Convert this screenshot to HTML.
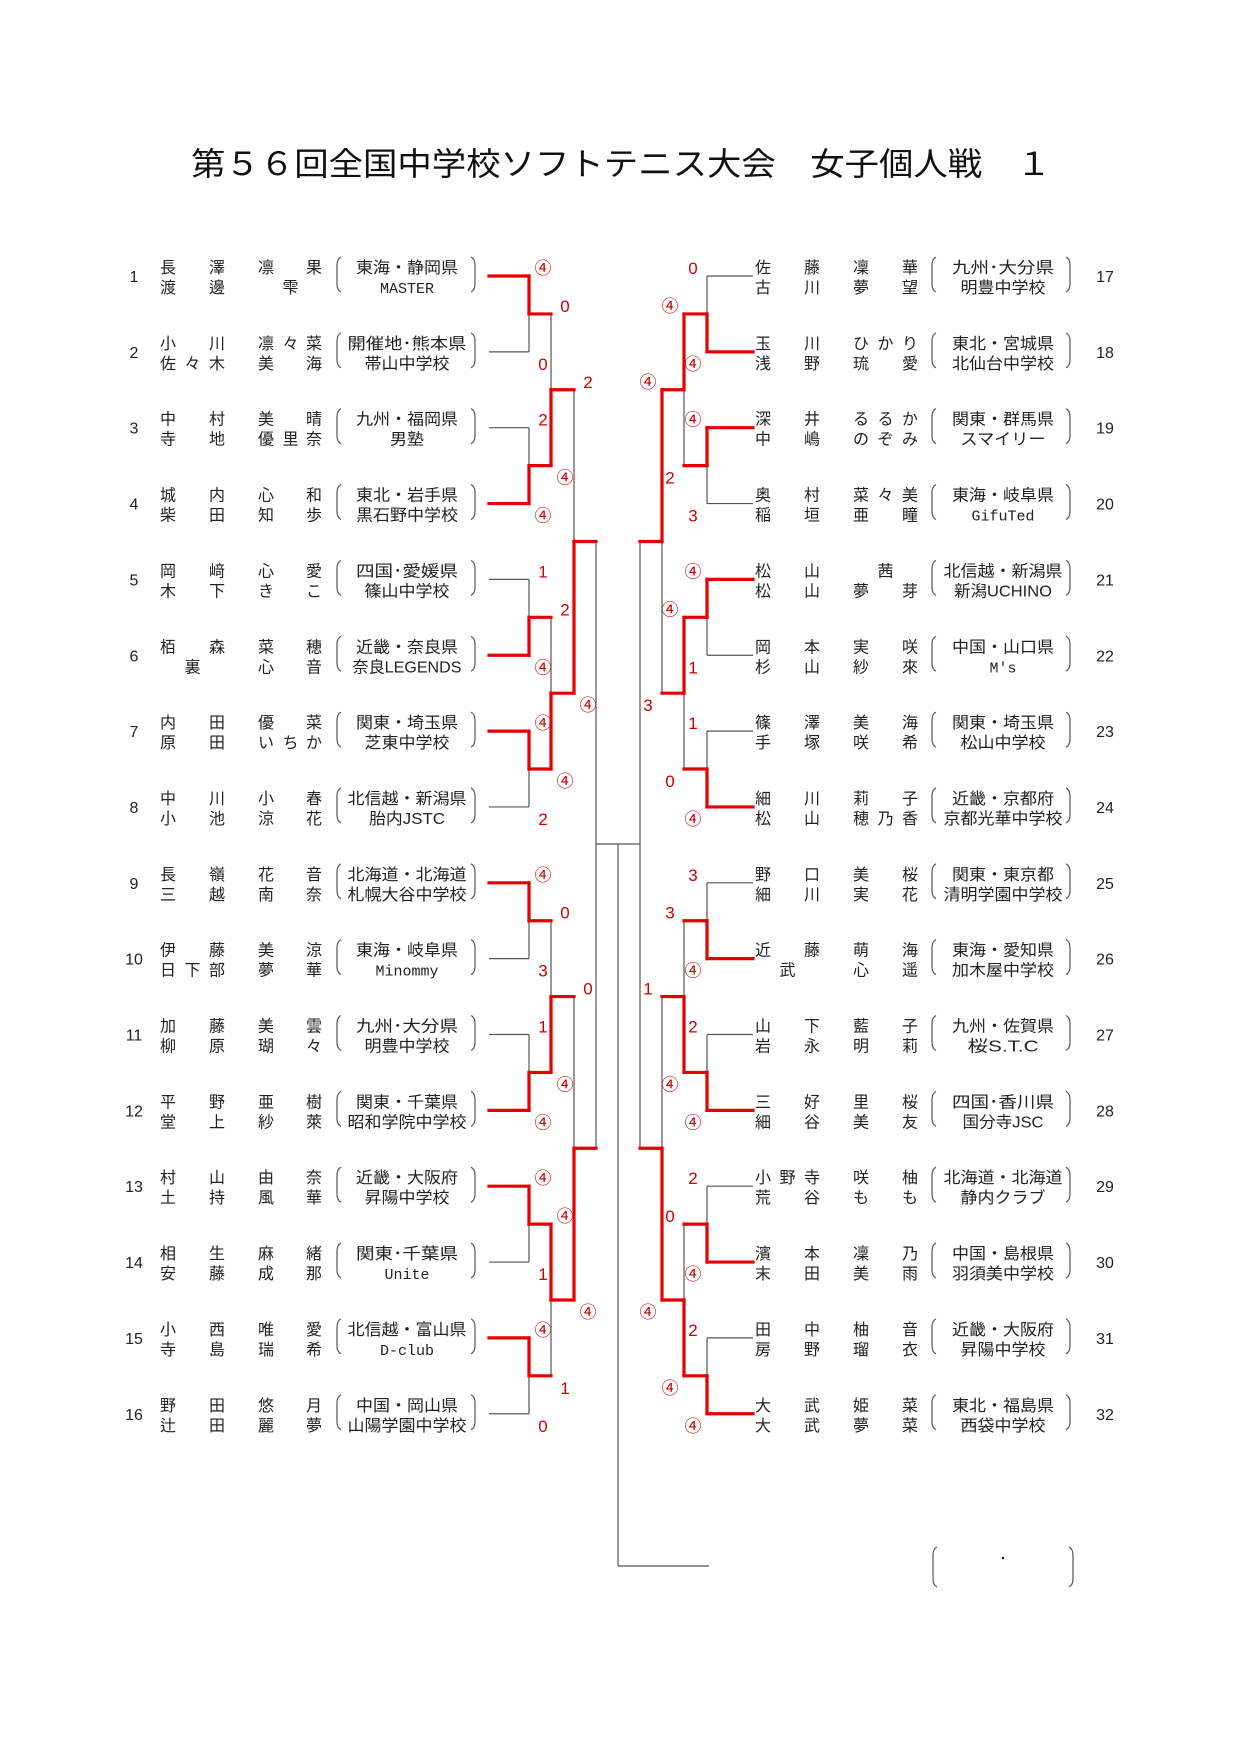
<!DOCTYPE html>
<html><head><meta charset="utf-8">
<style>
html,body{margin:0;padding:0;background:#fff;}
svg{display:block;}
text{font-family:"Liberation Sans","Noto Sans CJK JP",sans-serif;}
</style></head>
<body>
<svg id="s" xmlns="http://www.w3.org/2000/svg" width="1240" height="1754" viewBox="0 0 1240 1754">
<rect width="1240" height="1754" fill="#fff"/>
<text x="621" y="175" font-size="32" text-anchor="middle" textLength="860" lengthAdjust="spacingAndGlyphs" fill="#111" style="font-family:'Noto Sans CJK JP',sans-serif">第５６回全国中学校ソフトテニス大会　女子個人戦　１</text>
</svg>
<script>
const D=[
["長_澤_凛_果","渡_邊__雫_","東海・静岡県","MASTER"],
["小_川_凛々菜","佐々木_美_海","開催地･熊本県","帯山中学校"],
["中_村_美_晴","寺_地_優里奈","九州・福岡県","男塾"],
["城_内_心_和","柴_田_知_歩","東北・岩手県","黒石野中学校"],
["岡_﨑_心_愛","木_下_き_こ","四国･愛媛県","篠山中学校"],
["栢_森_菜_穂","_裏__心_音","近畿・奈良県","奈良LEGENDS"],
["内_田_優_菜","原_田_いちか","関東・埼玉県","芝東中学校"],
["中_川_小_春","小_池_涼_花","北信越・新潟県","胎内JSTC"],
["長_嶺_花_音","三_越_南_奈","北海道・北海道","札幌大谷中学校"],
["伊_藤_美_涼","日下部_夢_華","東海・岐阜県","Minommy"],
["加_藤_美_雲","柳_原_瑚_々","九州･大分県","明豊中学校"],
["平_野_亜_樹","堂_上_紗_萊","関東・千葉県","昭和学院中学校"],
["村_山_由_奈","土_持_風_華","近畿・大阪府","昇陽中学校"],
["相_生_麻_緒","安_藤_成_那","関東･千葉県","Unite"],
["小_西_唯_愛","寺_島_瑞_希","北信越・富山県","D-club"],
["野_田_悠_月","辻_田_麗_夢","中国・岡山県","山陽学園中学校"],
["佐_藤_凜_華","古_川_夢_望","九州･大分県","明豊中学校"],
["玉_川_ひかり","浅_野_琉_愛","東北・宮城県","北仙台中学校"],
["深_井_るるか","中_嶋_のぞみ","関東・群馬県","スマイリー"],
["奥_村_菜々美","稲_垣_亜_瞳","東海・岐阜県","GifuTed"],
["松_山__茜_","松_山_夢_芽","北信越・新潟県","新潟UCHINO"],
["岡_本_実_咲","杉_山_紗_來","中国・山口県","M's"],
["篠_澤_美_海","手_塚_咲_希","関東・埼玉県","松山中学校"],
["細_川_莉_子","松_山_穂乃香","近畿・京都府","京都光華中学校"],
["野_口_美_桜","細_川_実_花","関東・東京都","清明学園中学校"],
["近_藤_萌_海","_武__心_遥","東海・愛知県","加木屋中学校"],
["山_下_藍_子","岩_永_明_莉","九州・佐賀県","桜S.T.C"],
["三_好_里_桜","細_谷_美_友","四国･香川県","国分寺JSC"],
["小野寺_咲_柚","荒_谷_も_も","北海道・北海道","静内クラブ"],
["濱_本_凜_乃","末_田_美_雨","中国・島根県","羽須美中学校"],
["田_中_柚_音","房_野_瑠_衣","近畿・大阪府","昇陽中学校"],
["大_武_姫_菜","大_武_夢_菜","東北・福島県","西袋中学校"]
];
const R1=[["④","0","2","④","1","④","④","2","④","3","1","④","④","1","④","0"],
["0","④","④","3","④","1","1","④","3","④","2","④","2","④","2","④"]];
const R2=[[["0","④"],["2","④"],["0","④"],["④","1"]],[["④","2"],["④","0"],["3","④"],["0","④"]]];
const R3=[[["2","④"],["0","④"]],[["④","3"],["1","④"]]];
const svg=document.getElementById('s');let h='';
const P=75.85,Y0=276;
function ln(x1,y1,x2,y2,red){h+=`<line x1="${x1}" y1="${y1}" x2="${x2}" y2="${y2}" stroke="${red?'#e60000':'#555'}" stroke-width="${red?3.2:1.2}" stroke-linecap="${red?'square':'butt'}"/>`;}
function tx(x,y,s,sz,col,extra){h+=`<text x="${x}" y="${y}" font-size="${sz}" text-anchor="middle" fill="${col}" ${extra||''}>${s}</text>`;}
function br(x,t,b,dir){h+=`<path d="M${x+4*dir},${t} Q${x},${t+2} ${x},${t+8} L${x},${b-8} Q${x},${b-2} ${x+4*dir},${b}" fill="none" stroke="#555" stroke-width="1.2"/>`;}
function cjkCount(s){return [...s].filter(c=>/[^\x00-\x7f]/.test(c)).length;}
for(let i=0;i<32;i++){
 const side=i<16?0:1,k=i%16,y=Y0+k*P,d=D[i];
 const num=side?1105:134, cols=side?[763,787.5,812,836.5,861,885.5,910]:[168,192.5,217,241.5,266,290.5,314];
 const bl=side?932:337, brx=side?1070:475, sc=side?1003:407;
 tx(num,y+6,String(i+1),16,'#222');
 [d[0],d[1]].forEach((s,li)=>{[...s].forEach((c,j)=>{if(c!=='_')tx(cols[j],y-9+li*20+6,c,16,'#222');});});
 br(bl,y-19,y+16,1);br(brx,y-19,y+16,-1);
 [d[2],d[3]].forEach((s,li)=>{const arr=[...s],n=arr.length,c=cjkCount(s);let ex='';
  const yy=y-9+li*20+6;
  if(c===n){const w=Math.min(n*17,122);ex=`textLength="${w}" lengthAdjust="spacingAndGlyphs"`;tx(sc,yy,s,16,'#222',ex);}
  else if(c===0){const w=Math.min(n*9,122);tx(sc,yy,s,15,'#222',`textLength="${w}" lengthAdjust="spacingAndGlyphs" style="font-family:'Liberation Mono',monospace"`);}
  else{const w=Math.min(c*16+(n-c)*11,122);tx(sc,yy,s,16,'#222',`textLength="${w}" lengthAdjust="spacingAndGlyphs"`);}
 });
}
const XS=[[489,529,551,574,596],[753,707,684,662,640]];
const reds=[];
function sc(x,y,s){tx(x,y,s,17,'#d00000');}
for(let side=0;side<2;side++){
 const xs=XS[side],dir=side?-1:1;
 let nodes=[];
 for(let k=0;k<16;k++){const y=Y0+k*P;ln(xs[0],y,xs[1],y,false);nodes.push(y);
  if(R1[side][k]==='④')reds.push([xs[0],y,xs[1],y]);}
 const rounds=[null,R1[side],R2[side],R3[side]];
 for(let r=1;r<=3;r++){
  const nn=[];
  for(let m=0;m<nodes.length/2;m++){
   const ya=nodes[2*m],yb=nodes[2*m+1],mid=(ya+yb)/2;
   ln(xs[r],ya,xs[r],yb,false);ln(xs[r],mid,xs[r+1],mid,false);
   let s=r===1?[rounds[1][2*m],rounds[1][2*m+1]]:rounds[r][m];
   sc(xs[r]+dir*14,ya-2,s[0]);sc(xs[r]+dir*14,yb+18,s[1]);
   const w=s[0]==='④'?ya:(s[1]==='④'?yb:null);
   if(w!==null){reds.push([xs[r],w,xs[r],mid]);reds.push([xs[r],mid,xs[r+1],mid]);}
   nn.push(mid);
  }
  nodes=nn;
 }
 ln(xs[4],nodes[0],xs[4],nodes[1],false);
}
ln(596,844,640,844,false);
ln(618,844,618,1566,false);ln(618,1566,709,1566,false);
reds.forEach(a=>ln(a[0],a[1],a[2],a[3],true));
br(933,1547,1587,1);br(1073,1547,1587,-1);
h+='<circle cx="1003" cy="1558" r="1.3" fill="#222"/>';
svg.insertAdjacentHTML('beforeend',h);
</script>
</body></html>
